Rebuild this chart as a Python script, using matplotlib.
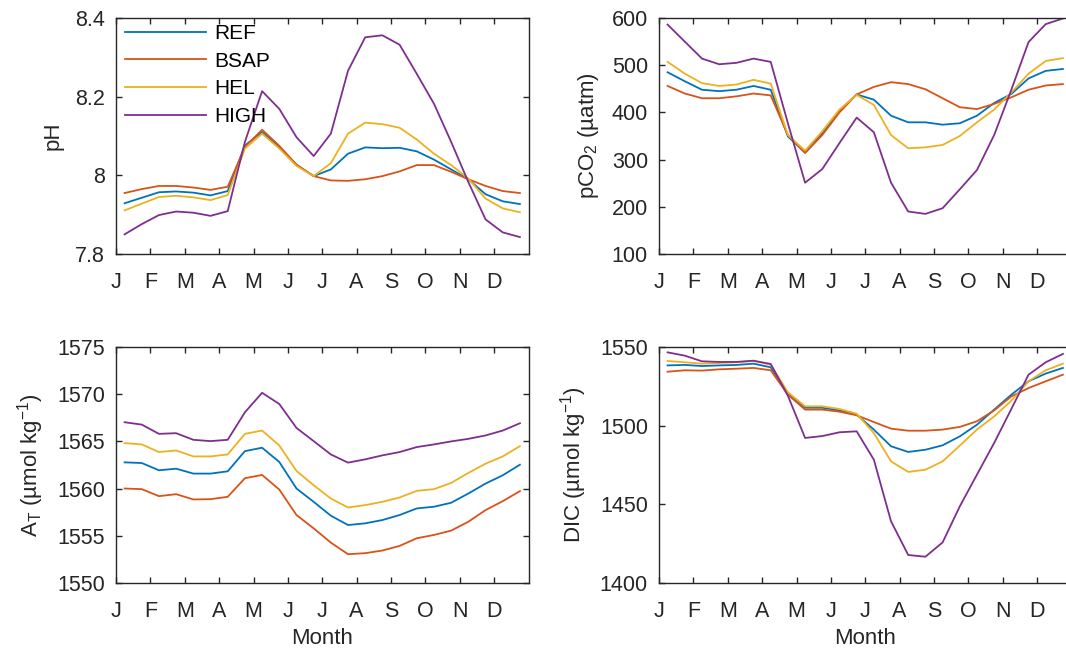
import numpy as np
import matplotlib
matplotlib.use("Agg")
import matplotlib.pyplot as plt

plt.rcParams["font.family"] = ["Liberation Sans", "DejaVu Sans"]
plt.rcParams["mathtext.fontset"] = "custom"
plt.rcParams["mathtext.rm"] = "Liberation Sans"
plt.rcParams["mathtext.it"] = "Liberation Sans"
plt.rcParams["mathtext.default"] = "regular"

# Half-monthly model output, positioned at the middle of each half month
t = np.arange(0.25, 12.0, 0.5)
month_labels = ["J", "F", "M", "A", "M", "J", "J", "A", "S", "O", "N", "D"]
scenarios = ["REF", "BSAP", "HEL", "HIGH"]
colors = ["#0072BD", "#D95319", "#EDB120", "#7E2F8E"]

ph_ref = [7.929, 7.943, 7.957, 7.959, 7.956, 7.949, 7.960, 8.076, 8.110, 8.072, 8.027, 7.998,
          8.015, 8.055, 8.071, 8.069, 8.070, 8.061, 8.040, 8.015, 7.990, 7.952, 7.934, 7.927]
ph_bsap = [7.955, 7.965, 7.973, 7.973, 7.969, 7.963, 7.971, 8.072, 8.116, 8.075, 8.027, 7.998,
           7.987, 7.986, 7.990, 7.998, 8.010, 8.026, 8.026, 8.009, 7.990, 7.973, 7.960, 7.955]
ph_hel = [7.911, 7.928, 7.945, 7.948, 7.944, 7.937, 7.950, 8.068, 8.106, 8.068, 8.024, 7.998,
          8.031, 8.106, 8.134, 8.130, 8.121, 8.091, 8.055, 8.026, 7.992, 7.941, 7.916, 7.906]
ph_high = [7.850, 7.876, 7.899, 7.908, 7.905, 7.897, 7.909, 8.085, 8.214, 8.169, 8.097, 8.049,
           8.106, 8.266, 8.351, 8.356, 8.332, 8.258, 8.182, 8.085, 7.983, 7.888, 7.855, 7.843]

pco2_ref = [485, 466, 448, 445, 448, 456, 448, 349, 315, 356, 404, 438,
            427, 393, 379, 379, 374, 377, 393, 420, 439, 472, 488, 492]
pco2_bsap = [456, 440, 430, 430, 434, 440, 436, 352, 314, 352, 400, 438,
             454, 464, 460, 449, 430, 411, 407, 418, 432, 448, 457, 460]
pco2_hel = [507, 482, 462, 456, 459, 469, 461, 352, 319, 360, 406, 437,
            416, 352, 324, 326, 331, 350, 379, 406, 442, 482, 509, 515]
pco2_high = [586, 550, 514, 502, 505, 514, 507, 377, 251, 280, 335, 389,
             358, 251, 190, 185, 197, 237, 278, 352, 448, 549, 587, 599]

at_ref = [1562.78, 1562.71, 1561.94, 1562.11, 1561.59, 1561.59, 1561.83, 1563.97, 1564.33, 1562.82,
          1560.01, 1558.60, 1557.13, 1556.14, 1556.32, 1556.67, 1557.20, 1557.90, 1558.08, 1558.50,
          1559.48, 1560.53, 1561.41, 1562.53]
at_bsap = [1560.01, 1559.94, 1559.20, 1559.41, 1558.85, 1558.88, 1559.13, 1561.10, 1561.45, 1559.90,
           1557.20, 1555.79, 1554.28, 1553.05, 1553.16, 1553.44, 1553.93, 1554.74, 1555.09, 1555.55,
           1556.49, 1557.72, 1558.67, 1559.73]
at_hel = [1564.82, 1564.68, 1563.87, 1564.04, 1563.41, 1563.41, 1563.62, 1565.80, 1566.15, 1564.57,
          1561.87, 1560.36, 1558.95, 1558.00, 1558.25, 1558.60, 1559.06, 1559.76, 1559.94, 1560.60,
          1561.66, 1562.64, 1563.41, 1564.50]
at_high = [1567.03, 1566.78, 1565.80, 1565.87, 1565.17, 1565.03, 1565.17, 1568.08, 1570.15, 1568.96,
           1566.43, 1565.03, 1563.62, 1562.75, 1563.10, 1563.52, 1563.87, 1564.40, 1564.68, 1565.00,
           1565.27, 1565.63, 1566.15, 1566.92]

dic_ref = [1538.3, 1538.6, 1537.9, 1538.3, 1538.6, 1539.4, 1537.1, 1520.8, 1511.4, 1511.4, 1509.7, 1507.0,
           1497.5, 1486.9, 1483.3, 1484.7, 1487.5, 1493.2, 1500.6, 1510.2, 1519.7, 1528.2, 1533.1, 1536.7]
dic_bsap = [1534.3, 1535.2, 1535.0, 1535.8, 1536.2, 1536.7, 1535.2, 1519.7, 1510.2, 1510.2, 1508.9, 1506.6,
            1502.3, 1498.1, 1496.8, 1496.8, 1497.5, 1499.2, 1502.8, 1509.7, 1518.6, 1523.9, 1528.2, 1532.4]
dic_hel = [1541.1, 1540.3, 1539.4, 1539.8, 1540.3, 1541.1, 1538.8, 1521.2, 1512.3, 1512.3, 1510.6, 1507.6,
           1495.3, 1477.3, 1470.6, 1472.0, 1477.3, 1487.3, 1497.5, 1505.9, 1515.9, 1528.2, 1535.2, 1539.4]
dic_high = [1546.6, 1544.5, 1540.9, 1540.5, 1540.5, 1541.3, 1539.2, 1519.0, 1492.2, 1493.4, 1495.8, 1496.4,
            1478.4, 1439.2, 1417.8, 1416.7, 1425.8, 1448.7, 1468.9, 1489.0, 1510.6, 1532.4, 1540.3, 1545.6]

panels = [
    dict(series=[ph_ref, ph_bsap, ph_hel, ph_high], ylim=(7.8, 8.4),
         yticks=[7.8, 8.0, 8.2, 8.4], yticklabels=["7.8", "8", "8.2", "8.4"],
         ylabel="pH", xlabel=None, rect=[116, 18], legend=True),
    dict(series=[pco2_ref, pco2_bsap, pco2_hel, pco2_high], ylim=(100, 600),
         yticks=[100, 200, 300, 400, 500, 600], yticklabels=None,
         ylabel="pCO$_2$ (µatm)", xlabel=None, rect=[659, 18], legend=False),
    dict(series=[at_ref, at_bsap, at_hel, at_high], ylim=(1550, 1575),
         yticks=[1550, 1555, 1560, 1565, 1570, 1575], yticklabels=None,
         ylabel="A$_T$ (µmol kg$^{-1}$)", xlabel="Month", rect=[116, 347], legend=False),
    dict(series=[dic_ref, dic_bsap, dic_hel, dic_high], ylim=(1400, 1550),
         yticks=[1400, 1450, 1500, 1550], yticklabels=None,
         ylabel="DIC (µmol kg$^{-1}$)", xlabel="Month", rect=[659, 347], legend=False),
]

W, H = 1066, 651
AX_W, AX_H = 412.5, 236
ink = "#262626"
fs = 15.5

fig = plt.figure(figsize=(W / 100, H / 100), dpi=100)

for p in panels:
    x0, y0 = p["rect"]
    ax = fig.add_axes([x0 / W, 1 - (y0 + AX_H) / H, AX_W / W, AX_H / H])
    for vals, name, c in zip(p["series"], scenarios, colors):
        ax.plot(t, vals, color=c, lw=1.3, label=name)
    ax.set_xlim(0, 12)
    ax.set_ylim(*p["ylim"])
    ax.set_xticks(range(12))
    ax.set_xticklabels(month_labels)
    ax.set_yticks(p["yticks"])
    if p["yticklabels"] is not None:
        ax.set_yticklabels(p["yticklabels"])
    ax.tick_params(direction="in", length=4, width=1.0, color=ink, labelcolor=ink,
                   labelsize=fs, top=True, right=True)
    ax.tick_params(axis="x", pad=13)
    ax.tick_params(axis="y", pad=8)
    for s in ax.spines.values():
        s.set_color(ink)
        s.set_linewidth(1.0)
    ax.set_ylabel(p["ylabel"], fontsize=fs + 0.5, color=ink, labelpad=8)
    if p["xlabel"]:
        ax.set_xlabel(p["xlabel"], fontsize=fs + 0.5, color=ink, labelpad=4)
    if p["legend"]:
        ax.legend(loc="upper left", bbox_to_anchor=(0.022, 0.975), frameon=False,
                  fontsize=fs - 0.5, handlelength=3.9, handletextpad=0.4, labelspacing=0.42,
                  borderpad=0, borderaxespad=0)

fig.savefig("out.png", dpi=100)
